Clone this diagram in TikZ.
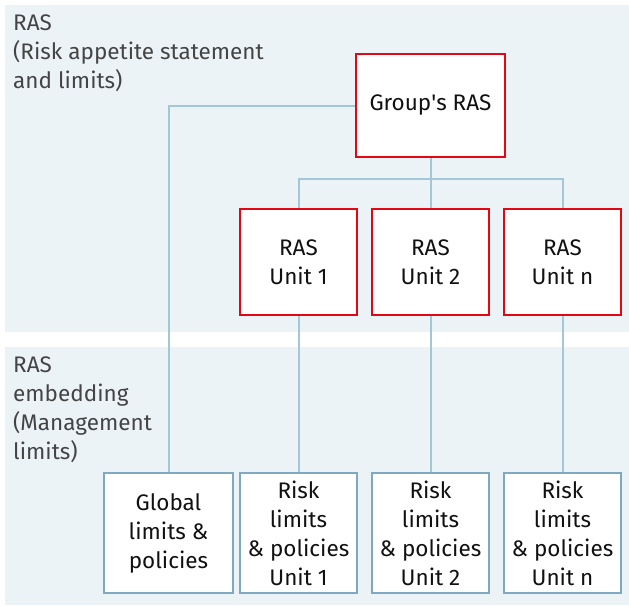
\documentclass[tikz,border=0pt]{standalone}
\usepackage{fontspec}
\setmainfont{Fira Sans}
\definecolor{panel}{HTML}{ECF3F7}
\definecolor{redb}{HTML}{E30613}
\definecolor{blueb}{HTML}{7FA9C0}
\definecolor{conn}{HTML}{A3C7D7}
\definecolor{lbl}{HTML}{444444}
\definecolor{txt}{HTML}{111111}
\begin{document}
\begin{tikzpicture}[x=1pt,y=-1pt,
  every node/.style={font=\fontsize{22.5}{29}\selectfont, text=txt, inner sep=0pt, align=center},
  rasbox/.style={draw=redb, line width=2.5pt, fill=white, minimum height=106pt, minimum width=117pt},
  limbox/.style={draw=blueb, line width=2pt, fill=white, minimum height=120pt, minimum width=117pt},
  conline/.style={draw=conn, line width=2pt},
  paneltext/.style={anchor=north west, align=left, text=lbl}]
\useasboundingbox (0,0) rectangle (629,606);
\fill[panel] (5,5) rectangle (629,332);
\fill[panel] (5,347) rectangle (629,605);
\node[paneltext] (t1) at (13,15) {RAS\\(Risk appetite statement\\and limits)};
\node[paneltext] (t2) at (13,357) {RAS\\embedding\\(Management\\limits)};
\node[rasbox, minimum width=149pt, minimum height=103pt] (grp) at (430.5,105.5) {Group\textquotesingle s RAS};
\node[rasbox] (u1) at (298.5,262) {RAS\\Unit 1};
\node[rasbox] (u2) at (430.5,262) {RAS\\Unit 2};
\node[rasbox] (un) at (562.5,262) {RAS\\Unit n};
\node[limbox, minimum width=129pt] (glob) at (168.5,533) {Global\\limits \&\\policies};
\node[limbox] (l1) at (298.5,533) {Risk\\limits\\\& policies\\Unit 1};
\node[limbox] (l2) at (430.5,533) {Risk\\limits\\\& policies\\Unit 2};
\node[limbox] (ln) at (562.5,533) {Risk\\limits\\\& policies\\Unit n};
\coordinate (bus) at (430.5,179);
\draw[conline] (grp.west) -| (glob.north);
\draw[conline] (grp.south) -- (u2.north);
\draw[conline] (u1.north) |- (bus) -| (un.north);
\draw[conline] (u1.south) -- (l1.north);
\draw[conline] (u2.south) -- (l2.north);
\draw[conline] (un.south) -- (ln.north);
\end{tikzpicture}
\end{document}
